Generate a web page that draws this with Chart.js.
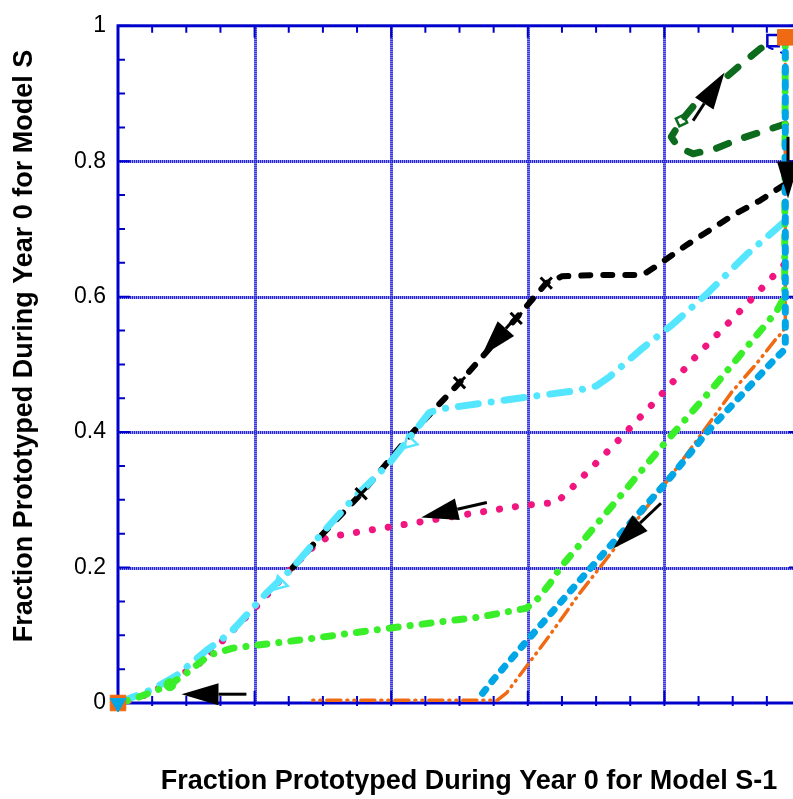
<!DOCTYPE html>
<html><head><meta charset="utf-8">
<script src="https://cdn.jsdelivr.net/npm/chart.js@4.4.0/dist/chart.umd.min.js"></script>
<style>
html,body{margin:0;padding:0;overflow:hidden;background:#fff}
#wrap{width:793px;height:799px;overflow:hidden;position:relative}
canvas{display:block}
</style>
</head><body><div id="wrap"><canvas id="c" width="820" height="799"></canvas></div>
<script>
// ---- tick labels ----
const majorTicks = [0, 0.2, 0.4, 0.6, 0.8, 1];
const yTickLabels = ['0', '0.2', '0.4', '0.6', '0.8', '1'];
const xTitle = 'Fraction Prototyped During Year 0 for Model S-1';
const yTitle = 'Fraction Prototyped During Year 0 for Model S';

// ---- series values ----
const blackX = [0.975, 0.94, 0.9, 0.832, 0.788, 0.768, 0.7, 0.65, 0.627, 0.583, 0.5, 0.43, 0.356, 0.3, 0.256];
const blackY = [0.765, 0.742, 0.72, 0.676, 0.645, 0.632, 0.632, 0.63, 0.62, 0.568, 0.473, 0.398, 0.309, 0.25, 0.2];
const blackMarkX = [0.356, 0.5, 0.583, 0.627];
const blackMarkY = [0.309, 0.473, 0.568, 0.62];

const cyanX = [0.975, 0.92, 0.861, 0.812, 0.768, 0.72, 0.70, 0.67, 0.6, 0.5, 0.471, 0.456, 0.398, 0.342, 0.3, 0.256, 0.217, 0.164, 0.13, 0.085, 0.05, 0.02, 0];
const cyanY = [0.71, 0.662, 0.603, 0.559, 0.524, 0.482, 0.468, 0.461, 0.452, 0.438, 0.434, 0.429, 0.355, 0.299, 0.252, 0.2, 0.162, 0.103, 0.078, 0.04, 0.02, 0.008, 0];
const cyanMarkX = [0.427, 0.237];
const cyanMarkY = [0.385, 0.176];

const pinkX = [0.975, 0.913, 0.849, 0.788, 0.725, 0.661, 0.642, 0.595, 0.5, 0.398, 0.307, 0.285, 0.266, 0.246, 0.207, 0.161, 0.12, 0.049, 0.02, 0];
const pinkY = [0.647, 0.581, 0.515, 0.447, 0.38, 0.314, 0.296, 0.292, 0.277, 0.26, 0.245, 0.23, 0.211, 0.191, 0.147, 0.1, 0.059, 0.015, 0.005, 0];

const greenX = [0.977, 0.976, 0.964, 0.869, 0.793, 0.647, 0.632, 0.613, 0.598, 0.53, 0.393, 0.266, 0.168, 0.134, 0.1, 0.076, 0.047, 0.02, 0];
const greenY = [0.983, 0.6, 0.578, 0.463, 0.375, 0.199, 0.176, 0.152, 0.14, 0.127, 0.11, 0.093, 0.081, 0.071, 0.044, 0.027, 0.015, 0.005, 0];
const greenMarkX = [0.076];
const greenMarkY = [0.027];

const blueX = [0.977, 0.977, 0.976, 0.959, 0.866, 0.803, 0.676, 0.598, 0.55, 0.532];
const blueY = [0.983, 0.53, 0.522, 0.505, 0.404, 0.326, 0.181, 0.091, 0.035, 0.012];

const orangeX = [0.977, 0.977, 0.974, 0.963, 0.934, 0.9, 0.808, 0.676, 0.627, 0.598, 0.569, 0.555, 0.285];
const orangeY = [0.983, 0.56, 0.549, 0.537, 0.5, 0.461, 0.333, 0.162, 0.093, 0.054, 0.015, 0.004, 0.004];

const dkGreenX = [0.977, 0.91, 0.876, 0.842, 0.82, 0.81, 0.825, 0.847, 0.91, 0.94, 0.959];
const dkGreenY = [0.855, 0.833, 0.819, 0.811, 0.821, 0.836, 0.86, 0.887, 0.941, 0.966, 0.978];
const dkGreenMarkX = [0.825];
const dkGreenMarkY = [0.86];

const navyX = [0.953, 0.977];
const navyY = [0.968, 0.958];
const navyMarkX = [0.959];
const navyMarkY = [0.978];

const startMarkX = [0.977];
const startMarkY = [0.983];
const endMarkX = [0];
const endMarkY = [0];

// arrows: tail -> tip
const arrowTailX = [0.188, 0.54, 0.583, 0.842, 0.981, 0.795];
const arrowTailY = [0.013, 0.296, 0.570, 0.860, 0.836, 0.295];
const arrowTipX  = [0.093, 0.444, 0.532, 0.888, 0.981, 0.725];
const arrowTipY  = [0.013, 0.274, 0.512, 0.931, 0.745, 0.228];

const axisColor = '#0000cc';
const gridLight = '#9a9af2';
const gridDark = '#2424d4';
const titleFont = "bold 27px 'Liberation Sans', Arial, sans-serif";

function pts(xs, ys) { return xs.map((x, i) => ({x: x, y: ys[i]})); }

function lineDs(xs, ys, color, width, dash) {
  return {
    data: pts(xs, ys), showLine: true, borderColor: color, borderWidth: width,
    borderDash: dash, borderCapStyle: 'round', borderJoinStyle: 'round',
    pointRadius: 0, pointHoverRadius: 0, tension: 0, fill: false, clip: false
  };
}
function markDs(xs, ys, style, radius, fillColor, strokeColor, width, rot) {
  return {
    data: pts(xs, ys), showLine: false, pointStyle: style, pointRadius: radius,
    pointHoverRadius: radius, pointBackgroundColor: fillColor, pointBorderColor: strokeColor,
    pointBorderWidth: width, pointRotation: rot || 0, clip: false
  };
}

const isMajor = v => Math.abs(v * 5 - Math.round(v * 5)) < 1e-6;
const minorStep = 0.05;

const framePlugin = {
  id: 'frame',
  beforeDatasetsDraw(chart) {
    const {ctx, chartArea: a, scales: {x, y}} = chart;
    ctx.save();
    // grid: light band with dark stripes
    ctx.lineWidth = 3;
    [[gridLight, []], [gridDark, [1, 1]]].forEach(([col, dash]) => {
      ctx.strokeStyle = col; ctx.setLineDash(dash);
      majorTicks.forEach(v => {
        if (v <= 0 || v >= 1) return;
        const px = Math.round(x.getPixelForValue(v)) + 0.5, py = Math.round(y.getPixelForValue(v)) + 0.5;
        ctx.beginPath(); ctx.moveTo(px, a.top); ctx.lineTo(px, a.bottom); ctx.stroke();
        ctx.beginPath(); ctx.moveTo(a.left, py); ctx.lineTo(a.right, py); ctx.stroke();
      });
    });
    ctx.setLineDash([]);
    // ticks
    ctx.strokeStyle = axisColor; ctx.lineWidth = 2;
    for (let i = 0; i <= 20; i++) {
      const v = i * minorStep;
      const len = isMajor(v) ? 12 : 7;
      const px = x.getPixelForValue(v), py = y.getPixelForValue(v);
      ctx.beginPath();
      ctx.moveTo(px, a.bottom + 3); ctx.lineTo(px, a.bottom - len);
      ctx.moveTo(px, a.top); ctx.lineTo(px, a.top + len);
      ctx.moveTo(a.left, py); ctx.lineTo(a.left + len, py);
      ctx.moveTo(a.right, py); ctx.lineTo(a.right - len, py);
      ctx.stroke();
    }
    // frame
    ctx.lineWidth = 3;
    ctx.strokeRect(a.left, a.top, a.right - a.left, a.bottom - a.top);
    ctx.restore();
  },
  afterDatasetsDraw(chart) {
    const {ctx, scales: {x, y}} = chart;
    ctx.save();
    ctx.strokeStyle = '#000'; ctx.fillStyle = '#000'; ctx.lineWidth = 3;
    for (let i = 0; i < arrowTailX.length; i++) {
      const x1 = x.getPixelForValue(arrowTailX[i]), y1 = y.getPixelForValue(arrowTailY[i]);
      const x2 = x.getPixelForValue(arrowTipX[i]), y2 = y.getPixelForValue(arrowTipY[i]);
      const ang = Math.atan2(y2 - y1, x2 - x1);
      const L = 37, W = 11;
      const bx = x2 - L * Math.cos(ang), by = y2 - L * Math.sin(ang);
      ctx.beginPath(); ctx.moveTo(x1, y1); ctx.lineTo(bx, by); ctx.stroke();
      ctx.beginPath(); ctx.moveTo(x2, y2);
      ctx.lineTo(bx + W * Math.sin(ang), by - W * Math.cos(ang));
      ctx.lineTo(bx - W * Math.sin(ang), by + W * Math.cos(ang));
      ctx.closePath(); ctx.fill();
    }
    ctx.restore();
  },
  afterDraw(chart) {
    const {ctx} = chart;
    ctx.save();
    ctx.fillStyle = '#000'; ctx.font = titleFont;
    ctx.textAlign = 'center'; ctx.textBaseline = 'middle';
    ctx.fillText(xTitle, 469, 782);
    ctx.translate(25, 346); ctx.rotate(-Math.PI / 2);
    ctx.fillText(yTitle, 0, 0);
    ctx.restore();
  }
};

const datasets = [
  markDs(startMarkX, startMarkY, 'rect', 11, '#f06a14', '#f06a14', 1),
  markDs(endMarkX, endMarkY, 'triangle', 9, '#00a6e6', '#00a6e6', 1, 180),
  markDs(endMarkX, endMarkY, 'rect', 11, '#f06a14', '#f06a14', 1),
  markDs(navyMarkX, navyMarkY, 'rect', 8, 'rgba(0,0,0,0)', axisColor, 2.5),
  markDs(dkGreenMarkX, dkGreenMarkY, 'rectRot', 6, 'rgba(255,255,255,0)', '#0d6b1e', 2.5, 20),
  markDs(blackMarkX, blackMarkY, 'crossRot', 8, '#000', '#000', 3),
  markDs(cyanMarkX, cyanMarkY, 'triangle', 8, 'rgba(0,0,0,0)', '#55e6ff', 2.5, 225),
  markDs(greenMarkX, greenMarkY, 'circle', 6, '#3aef2a', '#3aef2a', 1),
  lineDs(blueX, blueY, '#00a6e6', 7, [5, 10]),
  lineDs(greenX, greenY, '#3aef2a', 7, [9, 12, 0.1, 12]),
  lineDs(cyanX, cyanY, '#55e6ff', 7, [20, 13, 0.1, 13]),
  lineDs(blackX, blackY, '#000000', 6, [9, 13]),
  lineDs(pinkX, pinkY, '#f0157f', 7, [0.1, 16]),
  lineDs(orangeX, orangeY, '#f06a14', 3.5, [14, 6, 1, 6, 1, 6]),
  lineDs(dkGreenX, dkGreenY, '#0d6b1e', 7, [13, 17]),
  lineDs(navyX, navyY, axisColor, 2, [4, 9])
];

new Chart(document.getElementById('c'), {
  type: 'scatter',
  data: {datasets: datasets},
  options: {
    responsive: false, animation: false, devicePixelRatio: 1,
    layout: {padding: {left: 0, top: 23, right: 19, bottom: 0}},
    plugins: {legend: {display: false}, tooltip: {enabled: false}},
    events: [],
    scales: {
      x: {
        type: 'linear', min: 0, max: 1,
        grid: {display: false}, border: {display: false},
        ticks: {display: false, stepSize: 0.2},
        title: {display: false, text: xTitle},
        afterFit(s) { s.height = 96; }
      },
      y: {
        type: 'linear', min: 0, max: 1,
        grid: {display: false, drawTicks: false}, border: {display: false},
        ticks: {stepSize: 0.2, autoSkip: false, padding: 12, color: '#000',
          font: {family: "'Liberation Sans', Arial, sans-serif", size: 23},
          callback: v => yTickLabels[Math.round(v * 5)]},
        title: {display: false, text: yTitle},
        afterFit(s) { s.width = 118; }
      }
    }
  },
  plugins: [framePlugin]
});
</script></body></html>
